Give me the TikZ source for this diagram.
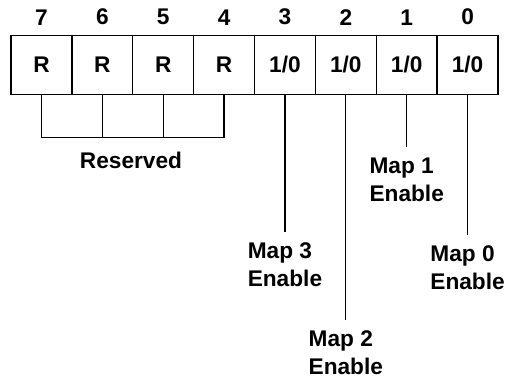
\documentclass[tikz,border=0pt]{standalone}
\usepackage{fontspec}
\setmainfont{Liberation Sans}
\usetikzlibrary{positioning}

\begin{document}
\begin{tikzpicture}[
    x=0.75pt, y=-0.75pt,
    base/.style={font=\fontsize{17pt}{21pt}\selectfont\bfseries},
    cellbox/.style={base, draw, line width=1.1pt, minimum width=45.66pt, minimum height=44.25pt, inner sep=0pt},
    bitnum/.style={base, inner sep=0pt},
    maplabel/.style={base, align=left, inner sep=0pt},
    wire/.style={line width=1pt}
]
    \useasboundingbox (0,0) rectangle (511,381);

    % --- REGISTER CELLS AND BIT NUMBERS ---
    \foreach \b/\t in {7/R, 6/R, 5/R, 4/R, 3/{1/0}, 2/{1/0}, 1/{1/0}, 0/{1/0}} {
        \node[cellbox] (c\b) at ({41.44+60.875*(7-\b)}, 65) {\t};
        \node[bitnum, above=7pt of c\b] (n\b) {\b};
    }

    % --- RESERVED BRACKET ---
    \draw[wire] (c7.south) -- ++(0,42) -| (c4.south);
    \draw[wire] (c6.south) -- ++(0,42);
    \draw[wire] (c5.south) -- ++(0,42);
    \node[base] (reserved) at (131,160) {Reserved};

    % --- MAP ENABLE BITS ---
    \coordinate (e3) at ([yshift=-137*0.75pt] c3.south);
    \coordinate (e2) at ([yshift=-225*0.75pt] c2.south);
    \coordinate (e1) at ([yshift=-52*0.75pt] c1.south);
    \coordinate (e0) at ([yshift=-140*0.75pt] c0.south);

    \node[maplabel, below=8pt of e3] (m3) {Map 3\\Enable};
    \node[maplabel, below=8pt of e2] (m2) {Map 2\\Enable};
    \node[maplabel, below=8pt of e1] (m1) {Map 1\\Enable};
    \node[maplabel, below=8pt of e0] (m0) {Map 0\\Enable};

    \draw[wire] (c3.south) -- (e3);
    \draw[wire] (c2.south) -- (e2);
    \draw[wire] (c1.south) -- (e1);
    \draw[wire] (c0.south) -- (e0);

\end{tikzpicture}
\end{document}
